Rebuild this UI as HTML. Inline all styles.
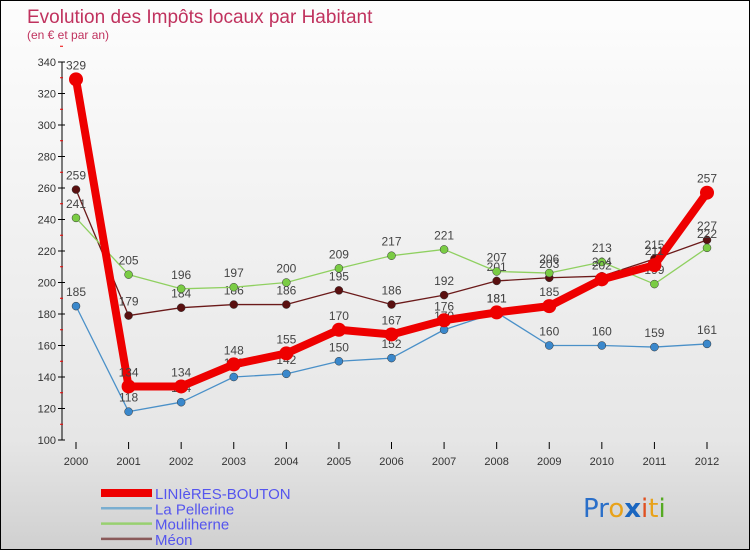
<!DOCTYPE html>
<html><head><meta charset="utf-8"><style>
body{margin:0}
#c{width:748px;height:548px;border:1px solid #000;position:relative;overflow:hidden;background:linear-gradient(#fdfdfd,#e6e6e6 80%,#d0d0d0);font-family:"Liberation Sans",sans-serif}
</style></head><body>
<div id="c">
<svg id="s" width="748" height="548" xmlns="http://www.w3.org/2000/svg">
<text x="26" y="22" font-size="19" fill="#c0325e">Evolution des Impôts locaux par Habitant</text>
<text x="26" y="38" font-size="12" fill="#c0325e">(en € et par an)</text>
<line x1="61" y1="61" x2="61" y2="439" stroke="#000"/>
<g id="yt"></g><g id="xt"></g><g id="series"></g><g id="legend"></g>
<text x="582" y="516" font-size="26" font-family="'DejaVu Sans',sans-serif"><tspan fill="#2a6fc9">Pr</tspan><tspan fill="#e8a21a">o</tspan><tspan fill="#1a66c0" font-weight="bold">x</tspan><tspan fill="#e05020">i</tspan><tspan fill="#e8a21a">t</tspan><tspan fill="#55aa22">i</tspan></text>
</svg>
</div>
<script>
const years=["2000","2001","2002","2003","2004","2005","2006","2007","2008","2009","2010","2011","2012"];
const yTicks=[100,120,140,160,180,200,220,240,260,280,300,320,340];
const seriesNames=["LINIèRES-BOUTON","La Pellerine","Mouliherne","Méon"];
const liniere=[329,134,134,148,155,170,167,176,181,185,202,211,257];
const pellerine=[185,118,124,140,142,150,152,170,181,160,160,159,161];
const mouliherne=[241,205,196,197,200,209,217,221,207,206,213,199,222];
const meon=[259,179,184,186,186,195,186,192,201,203,204,215,227];
const NS="http://www.w3.org/2000/svg";
const X=i=>75+i*(706-75)/12;
const Y=v=>439-(v-100)*(439-61)/240;
function mk(t,a,p){const e=document.createElementNS(NS,t);for(const k in a)e.setAttribute(k,a[k]);p.appendChild(e);return e;}
const yt=document.getElementById('yt'),xt=document.getElementById('xt'),sg=document.getElementById('series'),lg=document.getElementById('legend');
yTicks.forEach(v=>{
 const l=mk('line',{x1:57,x2:64,y1:Y(v),y2:Y(v),stroke:'#000'},yt);
 
 
 const t=mk('text',{x:55,y:Y(v)+4,'font-size':11,fill:'#333','text-anchor':'end'},yt);
 t.textContent=v;
 
 
 const m=mk('line',{x1:59,x2:62,y1:Y(v+10),y2:Y(v+10),stroke:'#e00'},yt);
 
 
});
years.forEach((y,i)=>{
 const t=mk('text',{x:X(i),y:464,'font-size':11,fill:'#333','text-anchor':'middle'},xt);
 t.textContent=y;
 
 
 const l=mk('line',{x1:X(i),x2:X(i),y1:441,y2:448,stroke:'#000'},xt);
 
 
});
const defs=[[meon,'#6b1a1a','#5a1010',1.3,4],[mouliherne,'#8fd060','#7acc44',1.3,4],[pellerine,'#4a90c8','#3a88cc',1.3,4],[liniere,'#ee0000','#ee0000',8,7]];
const order=[3,2,1,0];
defs.forEach((d,k)=>{
 const [vals,col,fill,w,r]=d;
 const g=mk('g',{},sg);
 
 
 const p=mk('polyline',{points:vals.map((v,i)=>X(i)+','+Y(v)).join(' '),fill:'none',stroke:col,'stroke-width':w,'stroke-linejoin':'round'},g);
 
 
 vals.forEach((v,i)=>{
  const c=mk('circle',{cx:X(i),cy:Y(v),r:r,fill:fill,stroke:'#333','stroke-width':w>2?0:0.5},g);
  
  
  const t=mk('text',{x:X(i),y:Y(v)-10,'font-size':12,fill:'#444','text-anchor':'middle'},g);
  t.textContent=v;
  
  
 });
});
const lc=['#ee0000','#7aaed0','#98d070','#8a5a5a'],lw=[8,2.5,2.5,2.5];
seriesNames.forEach((n,i)=>{
 const y=492+i*15.3;
 const l=mk('line',{x1:100,x2:151,y1:y,y2:y,stroke:lc[i],'stroke-width':lw[i]},lg);
 
 
 const t=mk('text',{x:154,y:y+6,'font-size':15,fill:'#5555ee'},lg);
 t.textContent=n;
 
 
});
</script>
</body></html>
